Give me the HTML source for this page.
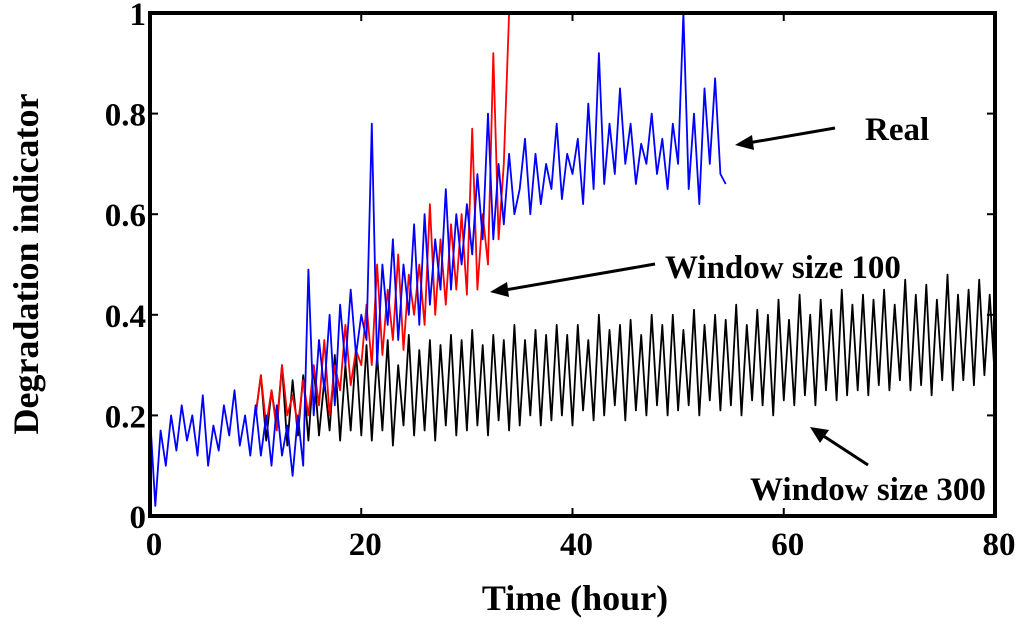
<!DOCTYPE html>
<html><head><meta charset="utf-8"><style>
body{margin:0;background:#fff;width:1024px;height:619px;overflow:hidden}
text{font-family:"Liberation Serif",serif;font-weight:bold;fill:#000}
</style></head><body>
<svg id="chart" width="1024" height="619" xmlns="http://www.w3.org/2000/svg">
<g id="ticks"></g>
<g id="series"></g>
<rect x="150" y="13" width="845" height="503" fill="none" stroke="#000" stroke-width="4"/>
<text x="575" y="610" font-size="36" text-anchor="middle">Time (hour)</text>
<text transform="translate(38,264) rotate(-90)" font-size="36" text-anchor="middle">Degradation indicator</text>
<text x="865" y="140" font-size="33">Real</text>
<line x1="835" y1="128" x2="748" y2="143" stroke="#000" stroke-width="3"/>
<polygon points="735,145 752,135 754,150" fill="#000"/>
<text x="665" y="278" font-size="33">Window size 100</text>
<line x1="655" y1="264" x2="505" y2="290" stroke="#000" stroke-width="3"/>
<polygon points="490,292 507,282 509,297" fill="#000"/>
<text x="750" y="500" font-size="33">Window size 300</text>
<line x1="868" y1="465" x2="822" y2="435" stroke="#000" stroke-width="3"/>
<polygon points="810,427 829,430 820,443" fill="#000"/>
</svg>
<script>
const xTicks=[0,20,40,60,80];
const yTicks=[0,0.2,0.4,0.6,0.8,1];
const yTickLabels=["0","0.2","0.4","0.6","0.8","1"];
const blueStart=0, blueStep=0.5;
const blueValues=[0.2,0.02,0.17,0.1,0.2,0.13,0.22,0.15,0.2,0.12,0.24,
0.1,0.18,0.13,0.22,0.16,0.25,0.14,0.2,0.12,0.22,
0.12,0.2,0.1,0.22,0.12,0.18,0.08,0.2,0.1,0.49,
0.2,0.35,0.25,0.4,0.22,0.42,0.3,0.45,0.32,0.4,
0.35,0.78,0.3,0.5,0.38,0.55,0.35,0.5,0.4,0.58,
0.38,0.6,0.42,0.55,0.45,0.65,0.45,0.6,0.5,0.62,
0.52,0.68,0.55,0.8,0.55,0.7,0.58,0.72,0.6,0.65,
0.75,0.6,0.72,0.62,0.7,0.65,0.78,0.63,0.72,0.68,
0.75,0.62,0.82,0.65,0.92,0.66,0.78,0.68,0.85,0.7,
0.78,0.66,0.74,0.7,0.8,0.68,0.75,0.65,0.78,0.7,
1.0,0.65,0.8,0.62,0.85,0.7,0.87,0.68,0.66];
const redStart=10, redStep=0.5;
const redValues=[0.2,0.28,0.18,0.25,0.17,0.3,0.2,0.24,0.18,0.27,0.2,
0.3,0.22,0.35,0.2,0.3,0.25,0.38,0.26,0.33,0.3,
0.42,0.3,0.5,0.32,0.45,0.35,0.52,0.33,0.48,0.4,
0.5,0.38,0.62,0.4,0.55,0.42,0.58,0.45,0.6,0.44,
0.77,0.45,0.6,0.5,0.92,0.55,0.7,1.0];
const blackStart=10, blackStep=0.5;
const blackValues=[0.2,0.28,0.15,0.25,0.18,0.3,0.14,0.27,0.16,0.28,0.15,0.3,0.16,0.27,0.17,0.32,0.15,0.3,0.17,0.33,0.16,
0.34,0.15,0.32,0.17,0.35,0.14,0.3,0.18,0.36,0.16,0.33,0.17,0.35,0.15,0.34,0.18,0.36,0.16,0.35,
0.17,0.37,0.18,0.34,0.16,0.36,0.19,0.35,0.17,0.38,0.18,0.35,0.2,0.37,0.18,0.36,0.19,0.38,0.2,
0.36,0.18,0.38,0.21,0.35,0.19,0.4,0.2,0.37,0.22,0.38,0.19,0.39,0.21,0.36,0.2,0.4,0.22,0.38,
0.2,0.4,0.21,0.37,0.22,0.41,0.2,0.38,0.23,0.4,0.21,0.39,0.22,0.42,0.2,0.38,0.23,0.41,0.22,
0.4,0.2,0.43,0.23,0.39,0.22,0.44,0.24,0.4,0.22,0.43,0.25,0.41,0.23,0.45,0.24,0.42,0.25,0.44,
0.24,0.43,0.26,0.45,0.25,0.42,0.27,0.47,0.25,0.44,0.26,0.46,0.24,0.43,0.27,0.48,0.25,0.44,0.27,
0.45,0.26,0.47,0.28,0.44,0.27];

const NS="http://www.w3.org/2000/svg";
const X=v=>150+v*(995-150)/80;
const Y=v=>516-v*(516-13);
const tg=document.getElementById('ticks'), sg=document.getElementById('series');
xTicks.forEach(t=>{
  const l=document.createElementNS(NS,'line');
  
  
  l.setAttribute('x1',X(t));l.setAttribute('x2',X(t));l.setAttribute('y1',516);l.setAttribute('y2',508);l.setAttribute('stroke','#000');l.setAttribute('stroke-width','2');
  tg.appendChild(l);
  const l2=l.cloneNode();l2.setAttribute('y1',13);l2.setAttribute('y2',21);tg.appendChild(l2);
  const tx=document.createElementNS(NS,'text');
  
  
  tx.setAttribute('x',X(t)+4);tx.setAttribute('y',555);tx.setAttribute('font-size','33');tx.setAttribute('text-anchor','middle');
  tx.textContent=t;tg.appendChild(tx);
});
yTicks.forEach((t,i)=>{
  const l=document.createElementNS(NS,'line');
  
  
  l.setAttribute('x1',150);l.setAttribute('x2',158);l.setAttribute('y1',Y(t));l.setAttribute('y2',Y(t));l.setAttribute('stroke','#000');l.setAttribute('stroke-width','2');
  tg.appendChild(l);
  const l2=l.cloneNode();l2.setAttribute('x1',995);l2.setAttribute('x2',987);tg.appendChild(l2);
  const tx=document.createElementNS(NS,'text');
  
  
  tx.setAttribute('x',146);tx.setAttribute('y',Y(t)+12);tx.setAttribute('font-size','33');tx.setAttribute('text-anchor','end');
  tx.textContent=yTickLabels[i];tg.appendChild(tx);
});
function draw(vals,start,step,color,name){
  const p=document.createElementNS(NS,'polyline');
  
  
  p.setAttribute('points',vals.map((v,i)=>X(start+i*step).toFixed(1)+','+Y(v).toFixed(1)).join(' '));
  p.setAttribute('fill','none');p.setAttribute('stroke',color);p.setAttribute('stroke-width','1.8');p.setAttribute('stroke-linejoin','round');
  sg.appendChild(p);
}
draw(blackValues,blackStart,blackStep,'#000','series-window-300');
draw(redValues,redStart,redStep,'#ff0000','series-window-100');
draw(blueValues,blueStart,blueStep,'#0000ff','series-real');
</script>
</body></html>
